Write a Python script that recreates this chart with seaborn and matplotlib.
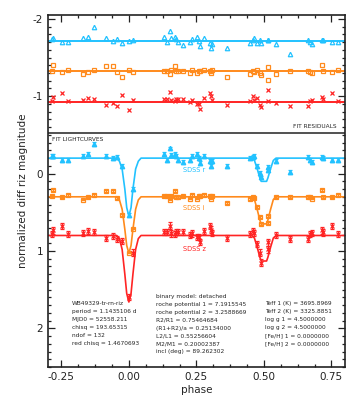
import matplotlib
matplotlib.use("Agg")
import matplotlib.pyplot as plt
import seaborn as sns
from matplotlib.ticker import MultipleLocator, AutoMinorLocator, FormatStrFormatter

# observation phases (same list used for all three bands)
phase = [-0.285, -0.281, -0.249, -0.226, -0.171, -0.153, -0.129, -0.085, -0.060, -0.045,
         -0.027, 0.000, 0.016, 0.129, 0.140, 0.151, 0.155, 0.170, 0.175, 0.182,
         0.201, 0.225, 0.235, 0.252, 0.260, 0.262, 0.277, 0.302, 0.305, 0.306,
         0.363, 0.447, 0.459, 0.465, 0.475, 0.484, 0.490, 0.514, 0.516, 0.545,
         0.595, 0.662, 0.672, 0.678, 0.714, 0.718, 0.751, 0.775]

# observed magnitudes (lightcurve panel)
mag_r = [-0.222, -0.232, -0.178, -0.178, -0.230, -0.248, -0.381, -0.230, -0.200, -0.210,
         -0.100, 0.530, 0.200, -0.252, -0.178, -0.325, -0.239, -0.252, -0.222, -0.178,
         -0.145, -0.178, -0.222, -0.252, -0.200, -0.132, -0.230, -0.165, -0.101, -0.161,
         -0.101, -0.200, -0.210, -0.230, -0.100, -0.010, 0.050, -0.050, -0.090, -0.160,
         -0.023, -0.209, -0.178, -0.152, -0.209, -0.206, -0.178, -0.178]
mag_i = [0.291, 0.214, 0.309, 0.278, 0.335, 0.309, 0.278, 0.223, 0.223, 0.310,
         0.530, 1.020, 0.710, 0.291, 0.291, 0.335, 0.287, 0.226, 0.300, 0.300,
         0.291, 0.322, 0.278, 0.322, 0.291, 0.291, 0.278, 0.291, 0.322, 0.287,
         0.377, 0.330, 0.300, 0.310, 0.430, 0.560, 0.655, 0.640, 0.550, 0.300,
         0.300, 0.300, 0.309, 0.322, 0.214, 0.300, 0.309, 0.278]
mag_z = [0.778, 0.735, 0.680, 0.778, 0.765, 0.745, 0.752, 0.830, 0.809, 0.850,
         0.870, 1.600, 1.020, 0.752, 0.752, 0.671, 0.774, 0.778, 0.752, 0.752,
         0.752, 0.796, 0.774, 0.822, 0.822, 0.881, 0.745, 0.680, 0.723, 0.765,
         0.830, 0.785, 0.740, 0.765, 0.910, 1.020, 1.150, 0.980, 0.890, 0.790,
         0.843, 0.843, 0.778, 0.765, 0.735, 0.761, 0.680, 0.778]

# fit residuals
res_r = [-0.022, -0.032, 0.022, 0.022, -0.030, -0.048, -0.181, -0.030, 0.000, -0.017,
         0.030, 0.000, -0.009, -0.052, 0.022, -0.125, -0.039, -0.052, -0.022, 0.022,
         0.055, 0.022, -0.022, -0.052, 0.000, 0.068, -0.030, 0.035, 0.099, 0.039,
         0.099, 0.026, -0.009, -0.030, 0.035, -0.009, 0.035, -0.009, -0.006, 0.048,
         0.177, -0.009, 0.022, 0.048, -0.009, -0.006, 0.022, 0.022]
res_i = [-0.009, -0.086, 0.009, -0.022, 0.035, 0.009, -0.022, -0.077, -0.077, 0.009,
         0.065, -0.013, 0.009, -0.009, -0.009, 0.035, -0.013, -0.074, 0.000, 0.000,
         -0.009, 0.022, -0.022, 0.022, -0.009, -0.009, -0.022, -0.009, 0.022, -0.013,
         0.077, 0.035, 0.000, 0.009, -0.022, 0.022, 0.052, -0.052, 0.116, 0.035,
         0.000, 0.000, 0.009, 0.022, -0.086, 0.000, 0.009, -0.022]
res_z = [-0.022, -0.065, -0.120, -0.022, -0.035, -0.055, -0.048, 0.030, 0.009, 0.052,
         -0.090, 0.094, -0.035, -0.048, -0.048, -0.129, -0.026, -0.022, -0.048, -0.048,
         -0.048, -0.004, -0.026, 0.022, 0.022, 0.081, -0.055, -0.120, -0.077, -0.035,
         0.030, -0.022, -0.077, -0.035, -0.055, 0.030, 0.065, -0.164, -0.022, 0.009,
         0.043, 0.043, -0.022, -0.035, -0.065, -0.039, -0.120, -0.022]

model_phase = [-0.30, -0.045, -0.035, -0.025, -0.015, -0.008, 0.0, 0.008, 0.015, 0.025, 0.035, 0.045,
               0.455, 0.465, 0.475, 0.485, 0.49, 0.51, 0.515, 0.525, 0.535, 0.545, 0.80]
model_r = [-0.2, -0.2, -0.16, -0.06, 0.2, 0.44, 0.55, 0.44, 0.2, -0.06, -0.16, -0.2,
           -0.2, -0.17, -0.065, 0.055, 0.1, 0.1, 0.055, -0.065, -0.17, -0.2, -0.2]
model_i = [0.3, 0.3, 0.34, 0.46, 0.72, 0.93, 1.03, 0.93, 0.72, 0.46, 0.34, 0.3,
           0.3, 0.335, 0.46, 0.6, 0.65, 0.65, 0.6, 0.46, 0.335, 0.3, 0.3]
model_z = [0.8, 0.8, 0.84, 0.98, 1.3, 1.55, 1.66, 1.55, 1.3, 0.98, 0.84, 0.8,
           0.8, 0.833, 0.95, 1.08, 1.13, 1.13, 1.08, 0.95, 0.833, 0.8, 0.8]

# residual panel offsets
res_offset = {"r": -1.72, "i": -1.32, "z": -0.92}

left_text = ["WB49329-tr-rn-riz", "period = 1.1435106 d", "MJD0 = 52558.211",
             "chisq = 193.65315", "ndof = 132", "red chisq = 1.4670693"]
mid_text = ["binary model: detached", "roche potential 1 = 7.1915545",
            "roche potential 2 = 3.2588669", "R2/R1 = 0.75464684",
            "(R1+R2)/a = 0.25134000", "L2/L1 = 0.55256604",
            "M2/M1 = 0.20002387", "incl (deg) = 89.262302"]
right_text = ["Teff 1 (K) = 3695.8969", "Teff 2 (K) = 3325.8851", "log g 1 = 4.5000000",
              "log g 2 = 4.5000000", "[Fe/H] 1 = 0.0000000", "[Fe/H] 2 = 0.0000000"]

c_r = "#22c2ff"
c_i = "#ff8a1c"
c_z = "#ff2424"

sns.set_style("ticks")
plt.rcParams["font.family"] = ["DejaVu Sans"]

fig = plt.figure(figsize=(3.6, 4.0), dpi=100)
ax = fig.add_axes([0.133, 0.0825, 0.825, 0.88])

xl = [-0.3, 0.8]

# lightcurves
for mags, model, col, mk, fill, err in [(mag_r, model_r, c_r, "^", True, 0.025),
                                         (mag_i, model_i, c_i, "s", False, 0.012),
                                         (mag_z, model_z, c_z, "x", True, 0.04)]:
    sns.lineplot(x=model_phase, y=model, color=col, lw=1.2, ax=ax, sort=False)
    ax.errorbar(phase, mags, yerr=err, fmt=mk, ms=3.2, color=col,
                mfc=col if fill else "none", mec=col, mew=0.9, elinewidth=0.9,
                capsize=1.2, zorder=3)

# residuals
for res, key, col, mk in [(res_r, "r", c_r, "^"), (res_i, "i", c_i, "s"), (res_z, "z", c_z, "x")]:
    off = res_offset[key]
    sns.lineplot(x=xl, y=[off, off], color=col, lw=1.4, ax=ax)
    ax.plot(phase, [off + v for v in res], mk, ms=3.2, color=col,
            mfc="none", mec=col, mew=0.9, zorder=3)

ax.axhline(-0.52, color="#222222", lw=1.1)

ax.set_xlim(xl)
ax.set_ylim(2.5, -2.05)

ax.xaxis.set_major_locator(MultipleLocator(0.25))
ax.xaxis.set_minor_locator(AutoMinorLocator(4))
ax.xaxis.set_major_formatter(FormatStrFormatter("%.2f"))
ax.yaxis.set_major_locator(MultipleLocator(1))
ax.yaxis.set_minor_locator(MultipleLocator(0.1))
ax.yaxis.set_major_formatter(FormatStrFormatter("%d"))
ax.tick_params(which="both", direction="in", top=True, right=True, width=0.9,
               labelsize=7.5, colors="#222222")
ax.tick_params(which="major", length=5)
ax.tick_params(which="minor", length=2.5)
for s in ax.spines.values():
    s.set_linewidth(1.2)
    s.set_color("#222222")

ax.set_xlabel("phase", fontsize=7.5, labelpad=2)
ax.set_ylabel("normalized diff riz magnitude", fontsize=7.5, labelpad=3)

fs = 4.2
ax.text(0.77, -0.57, "FIT RESIDUALS", fontsize=fs, ha="right", va="bottom")
ax.text(-0.285, -0.47, "FIT LIGHTCURVES", fontsize=fs, ha="left", va="top")
ax.text(0.20, -0.04, "SDSS r", fontsize=fs + 0.6, color=c_r, ha="left", va="center")
ax.text(0.20, 0.45, "SDSS i", fontsize=fs + 0.6, color=c_i, ha="left", va="center")
ax.text(0.20, 0.98, "SDSS z", fontsize=fs + 0.6, color=c_z, ha="left", va="center")

for k, t in enumerate(left_text):
    ax.text(-0.21, 1.68 + k * 0.104, t, fontsize=fs, ha="left", va="center")
for k, t in enumerate(mid_text):
    ax.text(0.10, 1.59 + k * 0.102, t, fontsize=fs, ha="left", va="center")
for k, t in enumerate(right_text):
    ax.text(0.505, 1.68 + k * 0.104, t, fontsize=fs, ha="left", va="center")

plt.savefig("out.png", dpi=100)
